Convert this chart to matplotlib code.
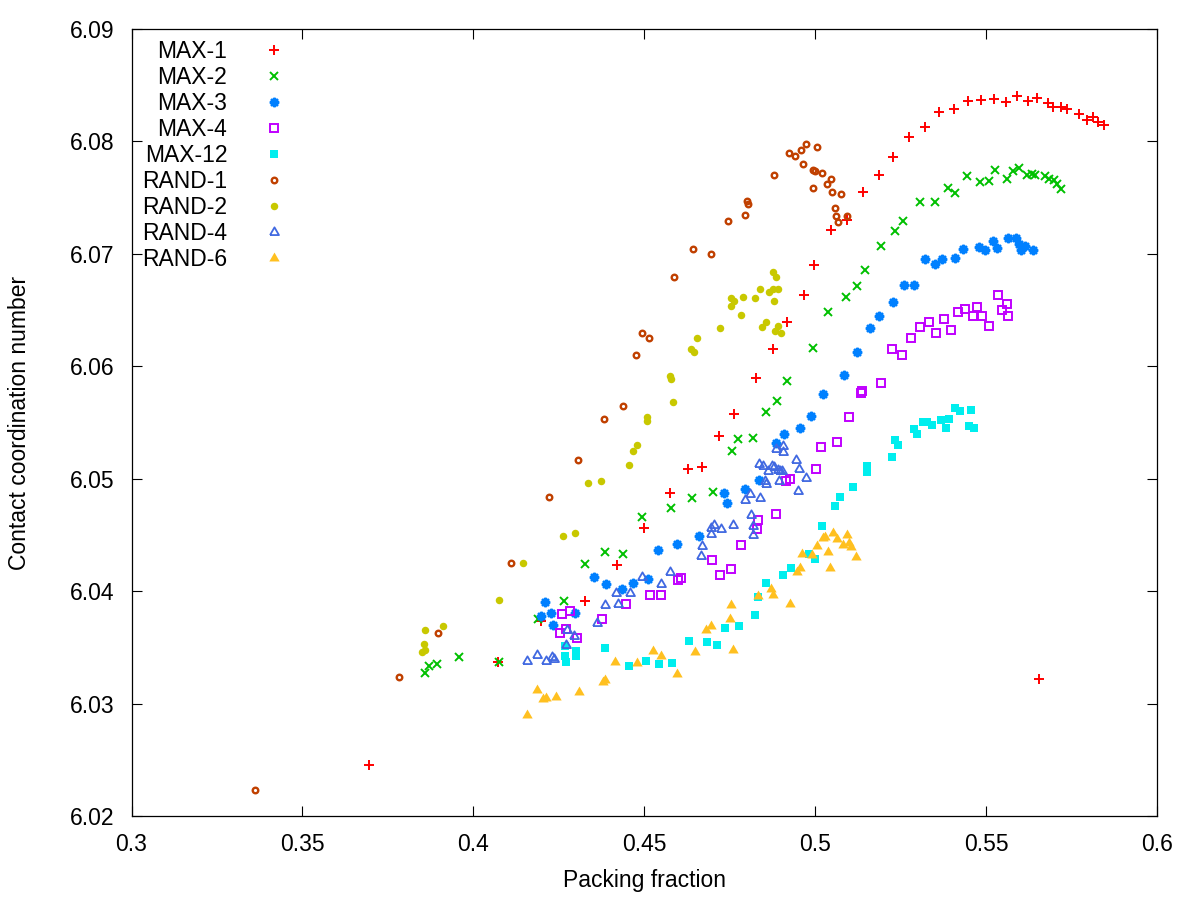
import matplotlib
matplotlib.use("Agg")
import matplotlib.pyplot as plt

plt.rcParams['font.family'] = ['Liberation Sans', 'DejaVu Sans']

max1_x = [0.3695, 0.4073, 0.4198, 0.4327, 0.4420, 0.4499, 0.4574, 0.4629, 0.4670, 0.4719,
          0.4763, 0.4827, 0.4877, 0.4918, 0.4967, 0.4996, 0.5045, 0.5094, 0.5141, 0.5188,
          0.5229, 0.5275, 0.5322, 0.5363, 0.5406, 0.5447, 0.5485, 0.5524, 0.5559, 0.5591,
          0.5623, 0.5649, 0.5681, 0.5696, 0.5719, 0.5737, 0.5772, 0.5795, 0.5813, 0.5827,
          0.5845, 0.5655]
max1_y = [6.0245, 6.0337, 6.0373, 6.0391, 6.0423, 6.0456, 6.0487, 6.0509, 6.0510, 6.0538,
          6.0558, 6.0590, 6.0615, 6.0639, 6.0663, 6.0690, 6.0721, 6.0730, 6.0755, 6.0770,
          6.0786, 6.0804, 6.0813, 6.0826, 6.0829, 6.0836, 6.0837, 6.0838, 6.0835, 6.0840,
          6.0836, 6.0839, 6.0834, 6.0831, 6.0831, 6.0829, 6.0824, 6.0819, 6.0822, 6.0817,
          6.0815, 6.0322]

max2_x = [0.3858, 0.3870, 0.3893, 0.3957, 0.4076, 0.4190, 0.4265, 0.4327, 0.4385, 0.4437,
          0.4493, 0.4579, 0.4641, 0.4702, 0.4757, 0.4775, 0.4818, 0.4856, 0.4888, 0.4918,
          0.4993, 0.5039, 0.5089, 0.5121, 0.5147, 0.5194, 0.5234, 0.5258, 0.5307, 0.5351,
          0.5389, 0.5409, 0.5444, 0.5482, 0.5509, 0.5527, 0.5562, 0.5579, 0.5597, 0.5620,
          0.5635, 0.5644, 0.5673, 0.5684, 0.5699, 0.5708, 0.5719]
max2_y = [6.0327, 6.0333, 6.0335, 6.0341, 6.0337, 6.0375, 6.0391, 6.0424, 6.0435, 6.0433,
          6.0466, 6.0474, 6.0483, 6.0488, 6.0525, 6.0535, 6.0536, 6.0559, 6.0569, 6.0587,
          6.0616, 6.0648, 6.0662, 6.0671, 6.0686, 6.0707, 6.0720, 6.0729, 6.0746, 6.0746,
          6.0759, 6.0754, 6.0769, 6.0764, 6.0765, 6.0775, 6.0767, 6.0774, 6.0776, 6.0770,
          6.0771, 6.0770, 6.0769, 6.0767, 6.0766, 6.0762, 6.0758]

max3_x = [0.4198, 0.4210, 0.4227, 0.4233, 0.4297, 0.4353, 0.4388, 0.4434, 0.4467, 0.4512,
          0.4541, 0.4597, 0.4661, 0.4734, 0.4743, 0.4795, 0.4836, 0.4885, 0.4909, 0.4955,
          0.4987, 0.5024, 0.5083, 0.5121, 0.5159, 0.5188, 0.5229, 0.5261, 0.5290, 0.5322,
          0.5351, 0.5371, 0.5409, 0.5433, 0.5479, 0.5497, 0.5521, 0.5533, 0.5565, 0.5588,
          0.5597, 0.5603, 0.5614, 0.5638]
max3_y = [6.0378, 6.0390, 6.0381, 6.0370, 6.0381, 6.0413, 6.0406, 6.0402, 6.0407, 6.0411,
          6.0437, 6.0442, 6.0449, 6.0487, 6.0478, 6.0491, 6.0499, 6.0532, 6.0540, 6.0545,
          6.0556, 6.0575, 6.0592, 6.0613, 6.0634, 6.0645, 6.0657, 6.0672, 6.0672, 6.0695,
          6.0691, 6.0695, 6.0696, 6.0704, 6.0706, 6.0703, 6.0711, 6.0705, 6.0714, 6.0714,
          6.0709, 6.0703, 6.0707, 6.0703]

max4_x = [0.4254, 0.4260, 0.4271, 0.4283, 0.4303, 0.4376, 0.4446, 0.4518, 0.4550, 0.4600,
          0.4608, 0.4699, 0.4722, 0.4754, 0.4783, 0.4830, 0.4833, 0.4885, 0.4915, 0.4926,
          0.5002, 0.5016, 0.5065, 0.5100, 0.5135, 0.5138, 0.5194, 0.5226, 0.5255, 0.5281,
          0.5307, 0.5334, 0.5354, 0.5377, 0.5398, 0.5418, 0.5438, 0.5462, 0.5473, 0.5488,
          0.5509, 0.5536, 0.5547, 0.5562, 0.5565]
max4_y = [6.0363, 6.0380, 6.0366, 6.0382, 6.0358, 6.0375, 6.0389, 6.0397, 6.0397, 6.0410,
          6.0412, 6.0428, 6.0414, 6.0420, 6.0441, 6.0455, 6.0463, 6.0469, 6.0498, 6.0500,
          6.0509, 6.0528, 6.0533, 6.0555, 6.0576, 6.0578, 6.0585, 6.0615, 6.0610, 6.0625,
          6.0635, 6.0639, 6.0630, 6.0642, 6.0632, 6.0648, 6.0651, 6.0645, 6.0653, 6.0645,
          6.0636, 6.0663, 6.0650, 6.0655, 6.0645]

max12_x = [0.4268, 0.4268, 0.4271, 0.4300, 0.4300, 0.4385, 0.4455, 0.4504, 0.4544, 0.4582,
           0.4632, 0.4684, 0.4713, 0.4737, 0.4778, 0.4824, 0.4833, 0.4856, 0.4906, 0.4929,
           0.4982, 0.4999, 0.5019, 0.5059, 0.5074, 0.5112, 0.5153, 0.5153, 0.5226, 0.5234,
           0.5243, 0.5290, 0.5299, 0.5316, 0.5328, 0.5342, 0.5369, 0.5383, 0.5392, 0.5409,
           0.5424, 0.5450, 0.5456, 0.5465]
max12_y = [6.0351, 6.0342, 6.0337, 6.0347, 6.0342, 6.0349, 6.0333, 6.0338, 6.0335, 6.0336,
           6.0356, 6.0355, 6.0352, 6.0367, 6.0369, 6.0379, 6.0395, 6.0407, 6.0414, 6.0421,
           6.0433, 6.0429, 6.0458, 6.0476, 6.0484, 6.0493, 6.0511, 6.0506, 6.0519, 6.0534,
           6.0530, 6.0544, 6.0540, 6.0550, 6.0550, 6.0548, 6.0552, 6.0545, 6.0553, 6.0563,
           6.0560, 6.0547, 6.0561, 6.0545]

rand1_x = [0.3360, 0.3782, 0.3896, 0.4111, 0.4222, 0.4306, 0.4382, 0.4437, 0.4475, 0.4493,
           0.4515, 0.4588, 0.4643, 0.4696, 0.4745, 0.4795, 0.4801, 0.4804, 0.4880, 0.4923,
           0.4941, 0.4958, 0.4973, 0.5006, 0.4964, 0.4993, 0.4999, 0.5019, 0.4993, 0.5036,
           0.5045, 0.5048, 0.5077, 0.5057, 0.5062, 0.5068, 0.5092]
rand1_y = [6.0223, 6.0324, 6.0363, 6.0425, 6.0484, 6.0517, 6.0553, 6.0565, 6.0610, 6.0630,
           6.0625, 6.0679, 6.0704, 6.0700, 6.0729, 6.0735, 6.0747, 6.0744, 6.0770, 6.0790,
           6.0787, 6.0792, 6.0798, 6.0795, 6.0780, 6.0775, 6.0774, 6.0772, 6.0759, 6.0762,
           6.0767, 6.0755, 6.0753, 6.0741, 6.0734, 6.0728, 6.0734]

rand2_x = [0.3849, 0.3855, 0.3858, 0.3858, 0.3911, 0.4076, 0.4146, 0.4263, 0.4297, 0.4335,
           0.4373, 0.4455, 0.4467, 0.4478, 0.4507, 0.4509, 0.4585, 0.4574, 0.4577, 0.4638,
           0.4646, 0.4655, 0.4722, 0.4754, 0.4754, 0.4763, 0.4783, 0.4789, 0.4824, 0.4839,
           0.4845, 0.4856, 0.4865, 0.4877, 0.4880, 0.4891, 0.4877, 0.4885, 0.4891, 0.4883,
           0.4900]
rand2_y = [6.0346, 6.0353, 6.0348, 6.0365, 6.0369, 6.0392, 6.0425, 6.0449, 6.0452, 6.0496,
           6.0498, 6.0512, 6.0525, 6.0530, 6.0551, 6.0555, 6.0568, 6.0591, 6.0589, 6.0615,
           6.0613, 6.0625, 6.0634, 6.0661, 6.0654, 6.0658, 6.0646, 6.0662, 6.0661, 6.0669,
           6.0635, 6.0639, 6.0666, 6.0669, 6.0658, 6.0669, 6.0684, 6.0679, 6.0636, 6.0631,
           6.0630]

rand4_x = [0.4158, 0.4187, 0.4213, 0.4230, 0.4236, 0.4271, 0.4274, 0.4295, 0.4362, 0.4385,
           0.4417, 0.4423, 0.4458, 0.4493, 0.4550, 0.4576, 0.4667, 0.4670, 0.4696, 0.4696,
           0.4705, 0.4725, 0.4760, 0.4795, 0.4810, 0.4813, 0.4818, 0.4818, 0.4836, 0.4839,
           0.4848, 0.4853, 0.4856, 0.4862, 0.4874, 0.4880, 0.4885, 0.4891, 0.4894, 0.4897,
           0.4903, 0.4906, 0.4906, 0.4944, 0.4950, 0.4953, 0.4973]
rand4_y = [6.0338, 6.0343, 6.0338, 6.0341, 6.0340, 6.0352, 6.0365, 6.0360, 6.0372, 6.0388,
           6.0398, 6.0389, 6.0398, 6.0413, 6.0406, 6.0417, 6.0431, 6.0440, 6.0451, 6.0456,
           6.0459, 6.0455, 6.0459, 6.0481, 6.0486, 6.0468, 6.0458, 6.0450, 6.0513, 6.0483,
           6.0511, 6.0498, 6.0495, 6.0507, 6.0511, 6.0510, 6.0526, 6.0508, 6.0498, 6.0507,
           6.0507, 6.0529, 6.0524, 6.0517, 6.0489, 6.0509, 6.0501]

rand6_x = [0.4158, 0.4187, 0.4204, 0.4213, 0.4242, 0.4309, 0.4379, 0.4385, 0.4414, 0.4478,
           0.4527, 0.4550, 0.4597, 0.4649, 0.4681, 0.4696, 0.4751, 0.4754, 0.4760, 0.4833,
           0.4871, 0.4877, 0.4926, 0.4947, 0.4955, 0.4961, 0.4990, 0.5006, 0.5022, 0.5030,
           0.5039, 0.5042, 0.5051, 0.5065, 0.5080, 0.5092, 0.5100, 0.5106, 0.5118]
rand6_y = [6.0290, 6.0312, 6.0304, 6.0305, 6.0306, 6.0310, 6.0319, 6.0321, 6.0337, 6.0336,
           6.0347, 6.0342, 6.0326, 6.0346, 6.0365, 6.0369, 6.0375, 6.0388, 6.0348, 6.0396,
           6.0402, 6.0397, 6.0389, 6.0417, 6.0421, 6.0433, 6.0432, 6.0440, 6.0447, 6.0448,
           6.0435, 6.0421, 6.0452, 6.0446, 6.0441, 6.0450, 6.0443, 6.0439, 6.0430]

x_ticks = [0.3, 0.35, 0.4, 0.45, 0.5, 0.55, 0.6]
x_tick_labels = ["0.3", "0.35", "0.4", "0.45", "0.5", "0.55", "0.6"]
y_ticks = [6.02, 6.03, 6.04, 6.05, 6.06, 6.07, 6.08, 6.09]
y_tick_labels = ["6.02", "6.03", "6.04", "6.05", "6.06", "6.07", "6.08", "6.09"]

FS = 16.5
tri = [(-1.0, -0.577), (1.0, -0.577), (0.0, 1.155), (-1.0, -0.577)]

fig = plt.figure(figsize=(12, 9), dpi=100)
ax = fig.add_axes([131.5 / 1200, 1 - 816 / 900, 1025.5 / 1200, 787 / 900])

ax.plot(max1_x, max1_y, ls='none', marker='+', ms=6.5, mew=1.4, color='#ff0000', label='MAX-1')
ax.plot(max2_x, max2_y, ls='none', marker='x', ms=5.3, mew=1.4, color='#00c000', label='MAX-2')
ax.plot(max3_x, max3_y, ls='none', marker=(8, 2, 0), ms=6.8, mew=1.7, color='#0080ff', label='MAX-3')
ax.plot(max4_x, max4_y, ls='none', marker='s', ms=5.1, mew=1.4, mfc='none', color='#c000ff', label='MAX-4')
ax.plot(max12_x, max12_y, ls='none', marker='s', ms=5.9, mew=0, color='#00eeee', label='MAX-12')
ax.plot(rand1_x, rand1_y, ls='none', marker='o', ms=4.0, mew=1.7, mfc='none', color='#c04000', label='RAND-1')
ax.plot(rand2_x, rand2_y, ls='none', marker='o', ms=5.4, mew=0, color='#c8c800', label='RAND-2')
ax.plot(rand4_x, rand4_y, ls='none', marker=tri, ms=7.4, mew=1.3, mfc='none', color='#4169e1', label='RAND-4')
ax.plot(rand6_x, rand6_y, ls='none', marker=tri, ms=8.6, mew=0, color='#ffc020', label='RAND-6')

ax.set_xlim(0.3, 0.6)
ax.set_ylim(6.02, 6.09)
ax.set_xticks(x_ticks)
ax.set_xticklabels(x_tick_labels)
ax.set_yticks(y_ticks)
ax.set_yticklabels(y_tick_labels)
ax.tick_params(direction='in', length=7, width=0.8, top=True, right=True, labelsize=FS)
ax.tick_params(axis='x', pad=12)
ax.tick_params(axis='y', pad=12.5)
for s in ax.spines.values():
    s.set_linewidth(0.9)
ax.set_xlabel('Packing fraction', fontsize=FS, labelpad=9.5)
ax.set_ylabel('Contact coordination number', fontsize=FS, labelpad=28)

ax.legend(loc='upper left', bbox_to_anchor=(0.0103, 0.9856), frameon=False, markerfirst=False,
          fontsize=FS, labelspacing=0.13, handletextpad=1.05, handlelength=2.0,
          borderpad=0, borderaxespad=0, numpoints=1)

fig.savefig('out.png', dpi=100)
